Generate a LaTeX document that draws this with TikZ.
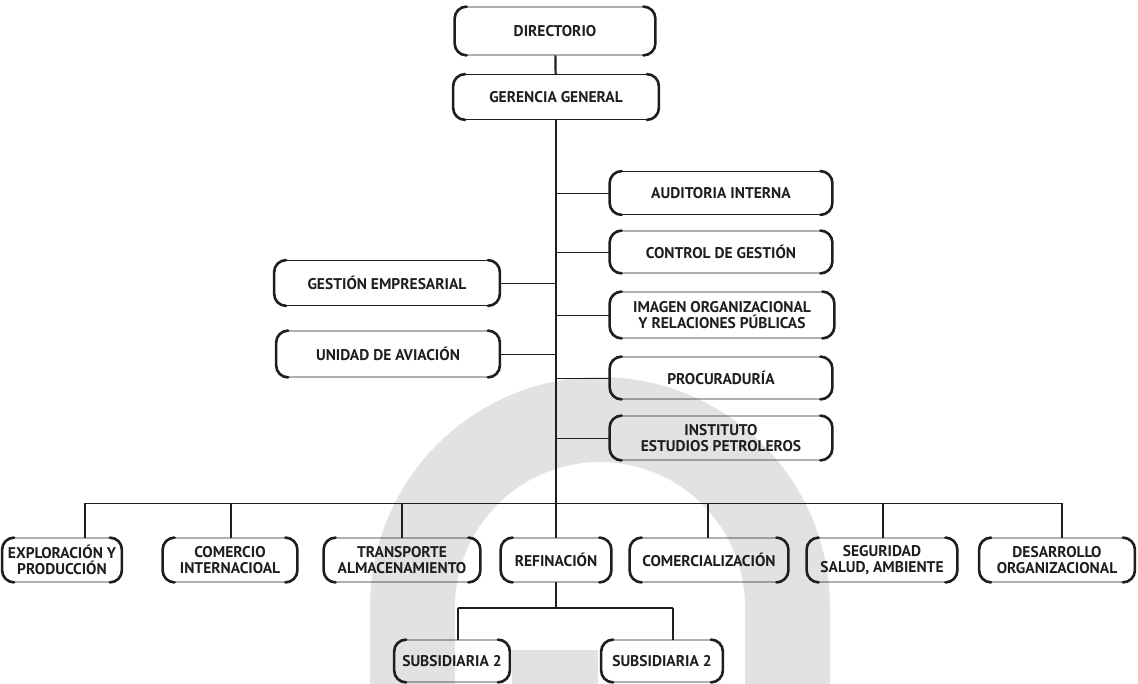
\documentclass[tikz,border=0pt]{standalone}
\usepackage{fontspec}
\setmainfont{PT Sans}
\usetikzlibrary{calc}
\definecolor{wm}{RGB}{226,226,226}
\definecolor{ink}{RGB}{30,30,30}
\begin{document}
\begin{tikzpicture}[x=1pt,y=1pt,
  orgbox/.style={draw=ink, line width=0.8pt, rounded corners=12pt, align=center, inner sep=0pt,
    font=\bfseries\fontsize{15.5}{16.5}\selectfont, text=ink},
  thickside/.style={line width=2.6pt, draw=ink, line cap=round},
  trunk/.style={line width=2.2pt, draw=ink},
  thinline/.style={line width=0.9pt, draw=ink},
  dropline/.style={line width=2.8pt, draw=ink}]
\useasboundingbox (0,0) rectangle (1138,-684);
% watermark
\fill[wm] (370,-684) -- (370,-607) arc[start angle=180,end angle=0,radius=230pt]
  -- (830,-684) -- (745,-684) -- (745,-607) arc[start angle=0,end angle=180,radius=145pt]
  -- (455,-684) -- cycle;
\fill[wm] (512,-650) rectangle (598,-684);
% nodes
\node[orgbox, minimum width=200pt, minimum height=48pt] (dir) at (555,-31) {DIRECTORIO};
\node[orgbox, minimum width=205pt, minimum height=45pt] (ger) at (556,-97) {GERENCIA GENERAL};
\node[orgbox, minimum width=222pt, minimum height=43pt] (aud) at (721,-193) {AUDITORIA INTERNA};
\node[orgbox, minimum width=222pt, minimum height=42pt] (con) at (721,-252) {CONTROL DE GESTIÓN};
\node[orgbox, minimum width=224pt, minimum height=46pt] (ima) at (722,-315) {IMAGEN ORGANIZACIONAL\\Y RELACIONES PÚBLICAS};
\node[orgbox, minimum width=222pt, minimum height=42pt] (pro) at (721,-378) {PROCURADURÍA};
\node[orgbox, minimum width=222pt, minimum height=44pt] (ins) at (721,-438) {INSTITUTO\\ESTUDIOS PETROLEROS};
\node[orgbox, minimum width=225pt, minimum height=45pt] (gest) at (387,-283) {GESTIÓN EMPRESARIAL};
\node[orgbox, minimum width=223pt, minimum height=46pt] (uni) at (388,-354) {UNIDAD DE AVIACIÓN};
\node[orgbox, minimum width=119pt, minimum height=44pt] (exp) at (62,-560) {EXPLORACIÓN Y\\PRODUCCIÓN};
\node[orgbox, minimum width=134pt, minimum height=44pt] (com) at (230,-560) {COMERCIO\\INTERNACIOAL};
\node[orgbox, minimum width=156pt, minimum height=44pt] (tra) at (402,-560) {TRANSPORTE\\ALMACENAMIENTO};
\node[orgbox, minimum width=110pt, minimum height=44pt] (ref) at (556,-560) {REFINACIÓN};
\node[orgbox, minimum width=158pt, minimum height=44pt] (cml) at (709,-560) {COMERCIALIZACIÓN};
\node[orgbox, minimum width=150pt, minimum height=44pt] (seg) at (882,-560) {SEGURIDAD\\SALUD, AMBIENTE};
\node[orgbox, minimum width=155pt, minimum height=44pt] (des) at (1057,-560) {DESARROLLO\\ORGANIZACIONAL};
\node[orgbox, minimum width=115pt, minimum height=42pt] (sub1) at (452,-661) {SUBSIDIARIA 2};
\node[orgbox, minimum width=121pt, minimum height=42pt] (sub2) at (662,-661) {SUBSIDIARIA 2};
% thick sides
\foreach \n in {dir,ger,aud,con,ima,pro,ins,gest,uni,exp,com,tra,ref,cml,seg,des,sub1,sub2}{
  \draw[thickside] ([xshift=12pt]\n.north west) arc[start angle=90,end angle=180,radius=12pt]
    -- ([yshift=12pt]\n.south west) arc[start angle=180,end angle=270,radius=12pt];
  \draw[thickside] ([xshift=-12pt]\n.north east) arc[start angle=90,end angle=0,radius=12pt]
    -- ([yshift=12pt]\n.south east) arc[start angle=0,end angle=-90,radius=12pt];
}
% connectors
\draw[trunk] (dir) -- (ger);
\draw[trunk] (ger.south) -- (ger.south |- ref.north);
\foreach \n in {aud,con,ima,pro,ins}{
  \draw[thinline] (\n.west -| ger.south) -- (\n.west);
}
\foreach \n in {gest,uni}{
  \draw[thinline] (\n.east) -- (\n.east -| ger.south);
}
\coordinate (bl) at (84,-503);
\coordinate (br) at (1063,-503);
\draw[thinline] (bl) -- (br);
\foreach \xx/\n in {85/exp,231/com,402/tra,708/cml,883/seg,1062/des}{
  \coordinate (d\n) at (\xx,-503);
  \draw[dropline] (d\n) -- (d\n |- \n.north);
}
\coordinate (sb) at (556,-608);
\coordinate (sl) at (458,-608);
\coordinate (sr) at (673,-608);
\draw[dropline] (ref.south) -- (sb);
\draw[thinline, line width=1.4pt] (sl) -- (sr);
\draw[dropline] (sl) -- (sl |- sub1.north);
\draw[dropline] (sr) -- (sr |- sub2.north);
\end{tikzpicture}
\end{document}
